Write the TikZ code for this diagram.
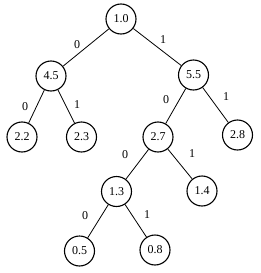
\documentclass[tikz,border=0pt]{standalone}
\usepackage{fontspec}
\setmainfont{Liberation Serif}
\begin{document}
\begin{tikzpicture}[x=1pt,y=-1pt,
  nd/.style={draw,circle,line width=1.1pt,minimum size=30pt,inner sep=0pt,font=\fontsize{12}{14}\selectfont},
  lbl/.style={inner sep=0pt,font=\fontsize{12}{14}\selectfont},
  edg/.style={line width=0.8pt}]
\useasboundingbox[fill=white] (0,0) rectangle (261,273);
\node[nd] (n10) at (121,19) {1.0};
\node[nd] (n45) at (51,76) {4.5};
\node[nd] (n55) at (193.5,75) {5.5};
\node[nd] (n22) at (22,137) {2.2};
\node[nd] (n23) at (81.5,137) {2.3};
\node[nd] (n27) at (158,137) {2.7};
\node[nd] (n28) at (237.5,135) {2.8};
\node[nd] (n13) at (116.5,191.5) {1.3};
\node[nd] (n14) at (202,191) {1.4};
\node[nd] (n05) at (79.5,251) {0.5};
\node[nd] (n08) at (155,250) {0.8};
\draw[edg] (n10) -- (n45);
\draw[edg] (n10) -- (n55);
\draw[edg] (n45) -- (n22);
\draw[edg] (n45) -- (n23);
\draw[edg] (n55) -- (n27);
\draw[edg] (n55) -- (n28);
\draw[edg] (n27) -- (n13);
\draw[edg] (n27) -- (n14);
\draw[edg] (n13) -- (n05);
\draw[edg] (n13) -- (n08);
\node[lbl] (l1) at (77,45) {0};
\node[lbl] (l2) at (163,40) {1};
\node[lbl] (l3) at (25,107) {0};
\node[lbl] (l4) at (77,105) {1};
\node[lbl] (l5) at (166,100) {0};
\node[lbl] (l6) at (226,97) {1};
\node[lbl] (l7) at (125,155) {0};
\node[lbl] (l8) at (192,154) {1};
\node[lbl] (l9) at (85,216) {0};
\node[lbl] (l10) at (147,215) {1};
\end{tikzpicture}
\end{document}
